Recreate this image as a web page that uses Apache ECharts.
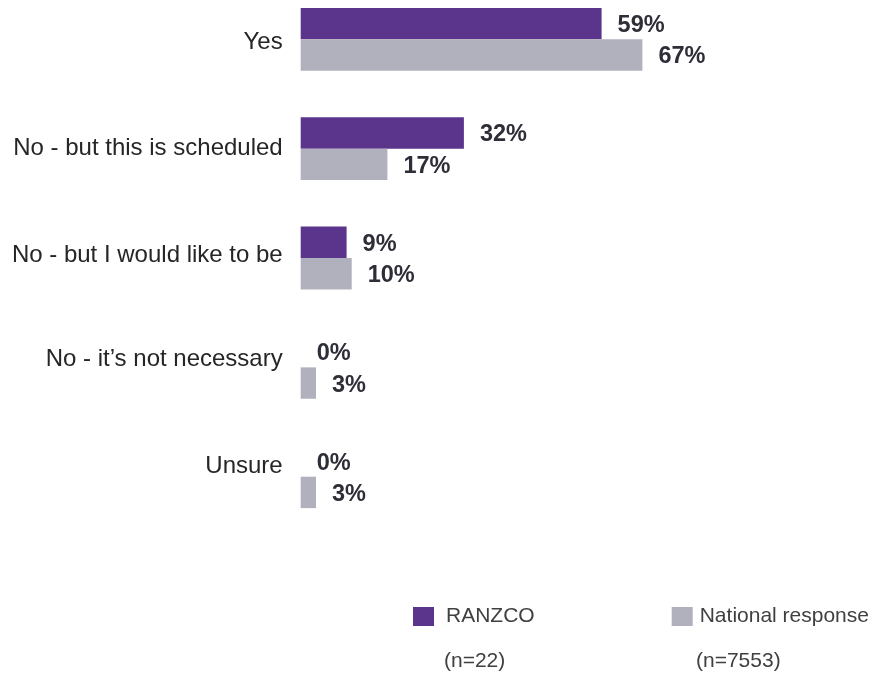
<!DOCTYPE html>
<html>
<head>
<meta charset="utf-8">
<script src="https://cdn.jsdelivr.net/npm/echarts@6/dist/echarts.min.js"></script>
<style>
html,body{margin:0;padding:0;background:#fff;overflow:hidden;width:872px;height:675px;}
#c{position:absolute;left:0;top:-20px;width:872px;height:695px;}
</style>
</head>
<body>
<div id="c"></div>
<script>
const categories = ["Yes", "No - but this is scheduled", "No - but I would like to be", "No - it\u2019s not necessary", "Unsure"];
const ranzco = [59, 32, 9, 0, 0];
const national = [67, 17, 10, 3, 3];
const seriesNames = ["RANZCO", "National response"];
const sampleSizes = ["(n=22)", "(n=7553)"];

const FONT = "'Liberation Sans', Arial, sans-serif";
const SHIFT = 20; // chart container is shifted up by this many px
// vertical nudge of each category label (px, positive = down), styling only
const labelNudge = [3, -0.5, -3, -8, -10.5];

const chart = echarts.init(document.getElementById('c'), null, {renderer: 'canvas'});

const rich = {};
labelNudge.forEach((d, i) => {
  rich['s' + i] = {
    fontFamily: FONT, fontSize: 24, color: '#262626',
    padding: d >= 0 ? [2 * d, 0, 0, 0] : [0, 0, -2 * d, 0]
  };
});

const labelCfg = {
  show: true,
  position: 'right',
  distance: 16,
  offset: [0, 2],
  formatter: '{c}%',
  fontFamily: FONT,
  fontSize: 23.5,
  fontWeight: 'bold',
  color: '#2e2e38'
};

chart.setOption({
  animation: false,
  backgroundColor: '#ffffff',
  grid: {left: 300.7, top: SHIFT - 15.4, width: 510, height: 546.8, containLabel: false},
  xAxis: {
    type: 'value', min: 0, max: 100, show: false
  },
  yAxis: {
    type: 'category', data: categories, inverse: true,
    axisLine: {show: false}, axisTick: {show: false}, splitLine: {show: false},
    axisLabel: {
      fontFamily: FONT, fontSize: 24, color: '#262626', margin: 18,
      formatter: (v, i) => '{s' + i + '|' + v + '}',
      rich: rich
    }
  },
  legend: [
    {
      data: [seriesNames[0]], left: 413, top: SHIFT + 606, itemWidth: 21, itemHeight: 19,
      icon: 'rect', padding: 0,
      textStyle: {fontFamily: FONT, fontSize: 21, color: '#404040', padding: [0, 0, 0, 7]}
    },
    {
      data: [seriesNames[1]], left: 671.7, top: SHIFT + 606, itemWidth: 21, itemHeight: 19,
      icon: 'rect', padding: 0,
      textStyle: {fontFamily: FONT, fontSize: 21, color: '#404040', padding: [0, 0, 0, 2]}
    }
  ],
  graphic: [
    {type: 'text', left: 444, top: SHIFT + 651, style: {text: sampleSizes[0], font: '21px ' + FONT, fill: '#404040'}},
    {type: 'text', left: 696, top: SHIFT + 651, style: {text: sampleSizes[1], font: '21px ' + FONT, fill: '#404040'}}
  ],
  series: [
    {
      name: seriesNames[0], type: 'bar', data: ranzco,
      barWidth: 31.4, barGap: '0%',
      itemStyle: {color: '#5b358c'},
      label: labelCfg
    },
    {
      name: seriesNames[1], type: 'bar', data: national,
      barWidth: 31.4, barGap: '0%',
      itemStyle: {color: '#b1b1be'},
      label: labelCfg
    }
  ]
});
</script>
</body>
</html>
